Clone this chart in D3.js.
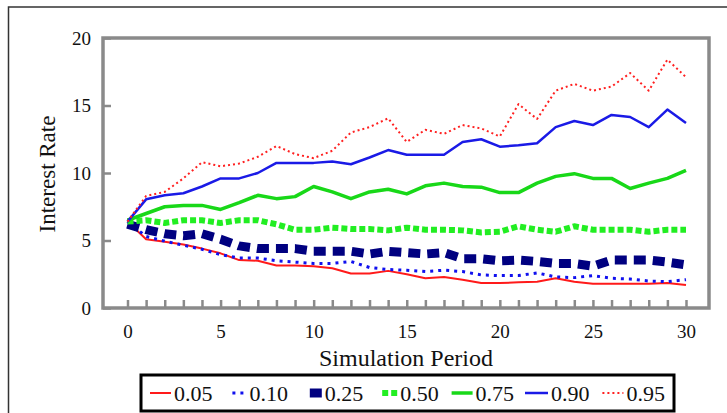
<!DOCTYPE html>
<html>
<head>
<meta charset="utf-8">
<script src="https://cdn.jsdelivr.net/npm/d3@7"></script>
<style>
    html, body { margin: 0; padding: 0; background: #fff; }
    svg text { font-family: 'Liberation Serif', 'Times New Roman', Times, 'DejaVu Serif', serif !important; }
</style>
</head>
<body>
<svg id="chart" width="727" height="413"></svg>
<script>
// simulation periods and percentile paths
const periods = [0, 1, 2, 3, 4, 5, 6, 7, 8, 9, 10, 11, 12, 13, 14, 15, 16, 17, 18, 19, 20, 21, 22, 23, 24, 25, 26, 27, 28, 29, 30];
const p05 = [6.4, 5.1, 4.9, 4.7, 4.4, 4.05, 3.55, 3.5, 3.15, 3.15, 3.1, 2.95, 2.55, 2.55, 2.75, 2.5, 2.2, 2.3, 2.1, 1.85, 1.85, 1.9, 1.95, 2.2, 1.95, 1.8, 1.8, 1.8, 1.8, 1.85, 1.7];
const p10 = [6.4, 5.3, 4.95, 4.65, 4.35, 3.95, 3.7, 3.7, 3.5, 3.4, 3.3, 3.3, 3.45, 3.0, 2.85, 2.8, 2.7, 2.8, 2.7, 2.45, 2.4, 2.4, 2.6, 2.3, 2.25, 2.4, 2.2, 2.15, 2.0, 1.95, 2.1];
const p25 = [6.2, 5.8, 5.5, 5.35, 5.5, 5.1, 4.6, 4.4, 4.4, 4.4, 4.2, 4.2, 4.2, 4.0, 4.2, 4.1, 4.0, 4.1, 3.65, 3.65, 3.5, 3.55, 3.45, 3.3, 3.3, 3.1, 3.55, 3.55, 3.55, 3.4, 3.2];
const p50 = [6.4, 6.5, 6.3, 6.5, 6.5, 6.3, 6.5, 6.5, 6.2, 5.8, 5.8, 5.95, 5.85, 5.85, 5.75, 5.95, 5.8, 5.8, 5.75, 5.6, 5.65, 6.05, 5.8, 5.65, 6.05, 5.8, 5.8, 5.8, 5.65, 5.8, 5.8];
const p75 = [6.5, 7.0, 7.5, 7.6, 7.6, 7.3, 7.8, 8.35, 8.1, 8.25, 9.0, 8.6, 8.1, 8.6, 8.8, 8.45, 9.05, 9.25, 9.0, 8.95, 8.55, 8.55, 9.25, 9.75, 9.95, 9.6, 9.6, 8.85, 9.25, 9.6, 10.2];
const p90 = [6.4, 8.05, 8.35, 8.5, 9.0, 9.6, 9.6, 10.0, 10.75, 10.75, 10.75, 10.85, 10.65, 11.15, 11.7, 11.35, 11.35, 11.35, 12.3, 12.5, 11.95, 12.05, 12.2, 13.4, 13.85, 13.55, 14.3, 14.15, 13.4, 14.7, 13.7];
const p95 = [6.4, 8.3, 8.6, 9.6, 10.8, 10.5, 10.7, 11.2, 12.0, 11.4, 11.1, 11.65, 13.0, 13.4, 14.05, 12.3, 13.2, 12.9, 13.55, 13.3, 12.7, 15.1, 14.0, 16.1, 16.6, 16.1, 16.4, 17.4, 16.1, 18.4, 17.1];

const seriesLabels = ['0.05', '0.10', '0.25', '0.50', '0.75', '0.90', '0.95'];
const seriesValues = [p05, p10, p25, p50, p75, p90, p95];
const yTicks = [0, 5, 10, 15, 20];
const xLabelTicks = [0, 5, 10, 15, 20, 25, 30];

// line look per percentile (colour, width, dash, legend symbol length)
const styles = {
    '0.05': { color: '#ff1a1a', width: 2, dash: null, legendLen: 21 },
    '0.10': { color: '#1010ee', width: 3, dash: '3,5', legendLen: 14 },
    '0.25': { color: '#000080', width: 9, dash: '12,7', legendLen: 12 },
    '0.50': { color: '#22ee22', width: 6, dash: '6,3', legendLen: 15 },
    '0.75': { color: '#18d818', width: 3.5, dash: null, legendLen: 21 },
    '0.90': { color: '#1a1ae6', width: 2.5, dash: null, legendLen: 23 },
    '0.95': { color: '#ff2020', width: 2, dash: '2,3', legendLen: 21 },
};

const serif = "'Liberation Serif', 'Times New Roman', Times, 'DejaVu Serif', serif";
const svg = d3.select('#chart').attr('font-family', serif);

// outer figure border
svg.append('rect')
    .attr('x', 8.5)
    .attr('y', 7)
    .attr('width', 730)
    .attr('height', 420)
    .attr('fill', 'none')
    .attr('stroke', '#333')
    .attr('stroke-width', 1.5);

const x = d3.scaleLinear().domain([0, 30]).range([127.5, 686]);
const y = d3.scaleLinear().domain([0, 20]).range([308, 38]);

const frame = { left: 103, right: 709 };

// inward tick marks on every period
svg.append('g')
    .attr('transform', `translate(0,${y(0)})`)
    .call(d3.axisBottom(x).tickValues(periods).tickSize(-8).tickFormat(''))
    .call((g) => g.select('.domain').remove())
    .call((g) => g.selectAll('line').attr('stroke', '#8a8a8a').attr('stroke-width', 2.5));

svg.append('g')
    .attr('transform', `translate(0,${y(0)})`)
    .call(d3.axisBottom(x).tickValues(xLabelTicks).tickSize(0).tickPadding(17))
    .call((g) => g.attr('font-family', serif).attr('font-size', 19).select('.domain').remove())
    .call((g) => g.selectAll('text').attr('fill', '#111'));

svg.append('g')
    .attr('transform', `translate(${frame.left},0)`)
    .call(d3.axisLeft(y).tickValues(yTicks).tickSize(-8).tickPadding(12))
    .call((g) => g.attr('font-family', serif).attr('font-size', 19).select('.domain').remove())
    .call((g) => g.selectAll('line').attr('stroke', '#8a8a8a').attr('stroke-width', 2.5))
    .call((g) => g.selectAll('text').attr('fill', '#111'));

// gray plot frame
svg.append('rect')
    .attr('x', frame.left)
    .attr('y', y(20))
    .attr('width', frame.right - frame.left)
    .attr('height', y(0) - y(20))
    .attr('fill', 'none')
    .attr('stroke', '#8a8a8a')
    .attr('stroke-width', 3.5);

const line = d3.line()
    .x((d, i) => x(periods[i]))
    .y((d) => y(d));

svg.append('g')
    .selectAll('path')
    .data(seriesLabels)
    .join('path')
    .attr('d', (d, i) => line(seriesValues[i]))
    .attr('fill', 'none')
    .attr('stroke', (d) => styles[d].color)
    .attr('stroke-width', (d) => styles[d].width)
    .attr('stroke-dasharray', (d) => styles[d].dash)
    .attr('stroke-linejoin', 'round');

// axis titles
svg.append('text')
    .attr('x', 406)
    .attr('y', 366)
    .attr('text-anchor', 'middle')
    .attr('font-size', 24)
    .attr('fill', '#111')
    .text('Simulation Period');

svg.append('text')
    .attr('transform', 'translate(55,174) rotate(-90)')
    .attr('text-anchor', 'middle')
    .attr('font-size', 23)
    .attr('fill', '#111')
    .text('Interest Rate');

// legend
const legend = svg.append('g');
legend.append('rect')
    .attr('x', 141)
    .attr('y', 375)
    .attr('width', 533)
    .attr('height', 36)
    .attr('fill', '#fff')
    .attr('stroke', '#000')
    .attr('stroke-width', 3);

const step = 75.4;
const items = legend.selectAll('g.item')
    .data(seriesLabels)
    .join('g')
    .attr('class', 'item')
    .attr('transform', (d, i) => `translate(${150 + i * step},393)`);

items.append('line')
    .attr('x1', (d) => 21 - styles[d].legendLen)
    .attr('x2', 21)
    .attr('stroke', (d) => styles[d].color)
    .attr('stroke-width', (d) => styles[d].width)
    .attr('stroke-dasharray', (d) => styles[d].dash);

items.append('text')
    .attr('x', 24)
    .attr('y', 0)
    .attr('dy', '0.35em')
    .attr('font-size', 22)
    .attr('fill', '#111')
    .text((d) => d);
</script>
</body>
</html>
